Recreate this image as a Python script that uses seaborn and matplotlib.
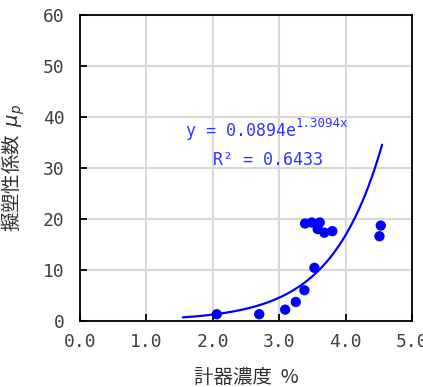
import numpy as np
import pandas as pd
import seaborn as sns
import matplotlib
matplotlib.use("Agg")
import matplotlib.pyplot as plt

# measured points (instrument concentration %, pseudo-plastic coefficient)
conc = [2.06, 2.70, 3.09, 3.25, 3.38, 3.53, 3.39, 3.49, 3.61, 3.58, 3.68, 3.80, 4.53, 4.51]
mu_p = [1.3, 1.3, 2.2, 3.7, 6.0, 10.4, 19.1, 19.3, 19.3, 18.0, 17.3, 17.6, 18.7, 16.6]

# exponential trendline as given on the chart
coef_a = 0.0894
coef_b = 1.3094
r2 = 0.6433
trend_x_range = (1.55, 4.55)

x_ticks = [0.0, 1.0, 2.0, 3.0, 4.0, 5.0]
y_ticks = [0, 10, 20, 30, 40, 50, 60]

sns.set_theme(style="whitegrid")
plt.rcParams['font.family'] = ['Noto Sans CJK JP', 'DejaVu Sans']
mono = ['DejaVu Sans Mono', 'Noto Sans CJK JP']

fig = plt.figure(figsize=(4.23, 3.87), dpi=100)
ax = fig.add_axes([0.189, 0.171, 0.785, 0.790])

df = pd.DataFrame({"conc": conc, "mu_p": mu_p})
tx = np.linspace(trend_x_range[0], trend_x_range[1], 200)
trend = pd.DataFrame({"conc": tx, "mu_p": coef_a * np.exp(coef_b * tx)})

sns.lineplot(data=trend, x="conc", y="mu_p", color="#0000ff", lw=1.6, ax=ax)
sns.scatterplot(data=df, x="conc", y="mu_p", color="#0000ff", s=55,
                edgecolor="none", ax=ax, zorder=3)

ax.set_xlim(0, 5)
ax.set_ylim(0, 60)
ax.set_xticks(x_ticks)
ax.set_yticks(y_ticks)
ax.set_xticklabels([f"{v:.1f}" for v in x_ticks], family=mono)
ax.set_yticklabels([str(v) for v in y_ticks], family=mono)
ax.grid(True, color="#d9d9d9", lw=1.5)
for s in ax.spines.values():
    s.set_color("black")
    s.set_linewidth(1.3)
ax.tick_params(direction="in", length=5, width=1.3, color="black",
               labelsize=13, labelcolor="#404040",
               bottom=True, left=True)
ax.tick_params(axis="y", pad=11)
ax.tick_params(axis="x", pad=9)

ax.set_xlabel("計器濃度  %", fontsize=14, color="#303030")
ax.set_ylabel("擬塑性係数  $\\mu_p$", fontsize=14, color="#303030")
ax.xaxis.set_label_coords(0.5, -0.152)
ax.yaxis.set_label_coords(-0.16, 0.5)

t1 = ax.text(1.59, 36.2, f"y = {coef_a:.4f}e", fontsize=12, color="#3333ff",
             va="baseline", ha="left", family=mono)
ax.annotate(f"{coef_b:.4f}x", xy=(1, 0.6), xycoords=t1, fontsize=9,
            color="#3333ff", va="bottom", ha="left", family=mono)
ax.text(2.0, 30.6, f"R² = {r2:.4f}", fontsize=12, color="#3333ff",
        va="baseline", ha="left", family=mono)

fig.savefig("out.png", dpi=100)
